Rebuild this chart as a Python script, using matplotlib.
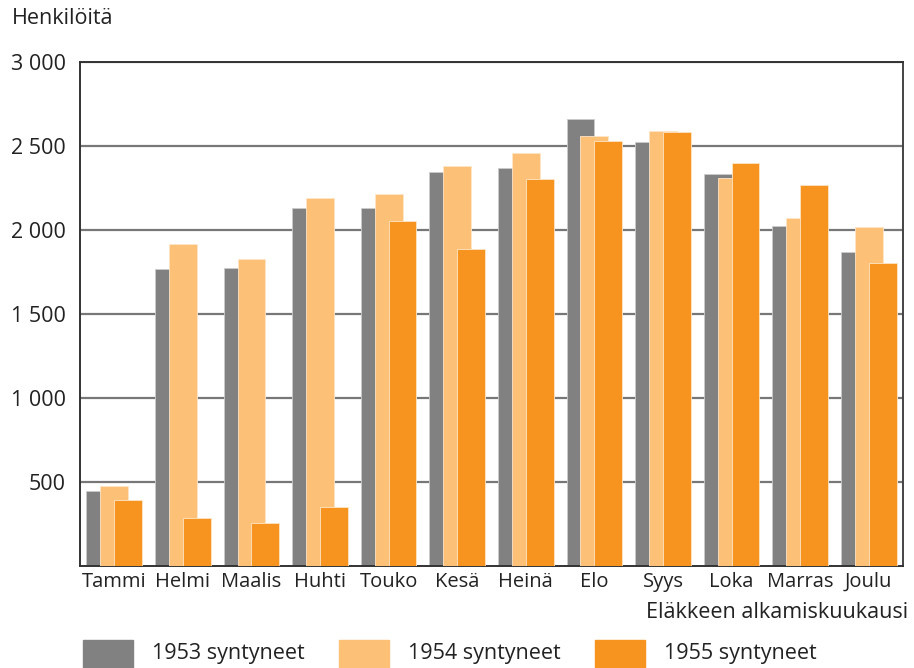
import matplotlib
matplotlib.use("Agg")
import matplotlib.pyplot as plt
import numpy as np
from matplotlib.patches import Rectangle
from matplotlib.ticker import FuncFormatter

months = ["Tammi", "Helmi", "Maalis", "Huhti", "Touko", "Kesä",
          "Heinä", "Elo", "Syys", "Loka", "Marras", "Joulu"]
born_1953 = [446, 1768, 1774, 2128, 2128, 2348, 2372, 2660, 2522, 2336, 2022, 1872]
born_1954 = [478, 1914, 1826, 2192, 2214, 2381, 2458, 2557, 2587, 2312, 2071, 2016]
born_1955 = [395, 286, 256, 350, 2054, 1885, 2302, 2527, 2581, 2400, 2265, 1806]
series_names = ["1953 syntyneet", "1954 syntyneet", "1955 syntyneet"]
colors = ["#818181", "#FCC176", "#F7941F"]

plt.rcParams['font.family'] = ['Open Sans', 'DejaVu Sans']
FS = 15.5
W, H = 914, 668

fig = plt.figure(figsize=(W / 100, H / 100), dpi=100)
ax = fig.add_axes([80 / W, 1 - 566 / H, (903 - 80) / W, (566 - 62) / H])

x = np.arange(len(months))
bw = 0.405
off = 0.203
for k, vals in enumerate([born_1953, born_1954, born_1955]):
    ax.bar(x + (k - 1) * off, vals, width=bw, color=colors[k],
           edgecolor="#fde5c8" if k else "#cccccc", linewidth=0.6, zorder=2 + k)

ax.set_xlim(-0.5, len(months) - 0.5)
ax.set_ylim(0, 3000)
ax.set_yticks([500, 1000, 1500, 2000, 2500, 3000])
ax.yaxis.set_major_formatter(FuncFormatter(lambda v, p: f"{int(v):,}".replace(",", " ")))
ax.set_xticks(x)
ax.set_xticklabels(months)
ax.tick_params(length=0, labelsize=FS, colors="#222222", pad=4)
ax.tick_params(axis='x', labelsize=14.5)
ax.tick_params(axis='y', pad=10)
ax.grid(axis='y', color="#777777", linewidth=1.6, zorder=1)
ax.set_axisbelow(True)
for side in ["left", "right", "top", "bottom"]:
    ax.spines[side].set_color("#333333")
    ax.spines[side].set_linewidth(1.4)
ax.spines["right"].set_color("#444444")

fig.text(12 / W, 1 - 19 / H, "Henkilöitä", fontsize=FS, color="#222222",
         ha="left", va="center")
fig.text(908 / W, 1 - 612 / H, "Eläkkeen alkamiskuukausi", fontsize=FS,
         color="#222222", ha="right", va="center")

# legend along the bottom
patch_x = [83, 339, 595]
for px, name, c in zip(patch_x, series_names, colors):
    fig.add_artist(Rectangle((px / W, 0), 50 / W, 28 / H, color=c,
                             transform=fig.transFigure))
    fig.text((px + 69) / W, 1 - 653 / H, name, fontsize=FS, color="#222222",
             ha="left", va="center")

fig.savefig("out.png", dpi=100)
